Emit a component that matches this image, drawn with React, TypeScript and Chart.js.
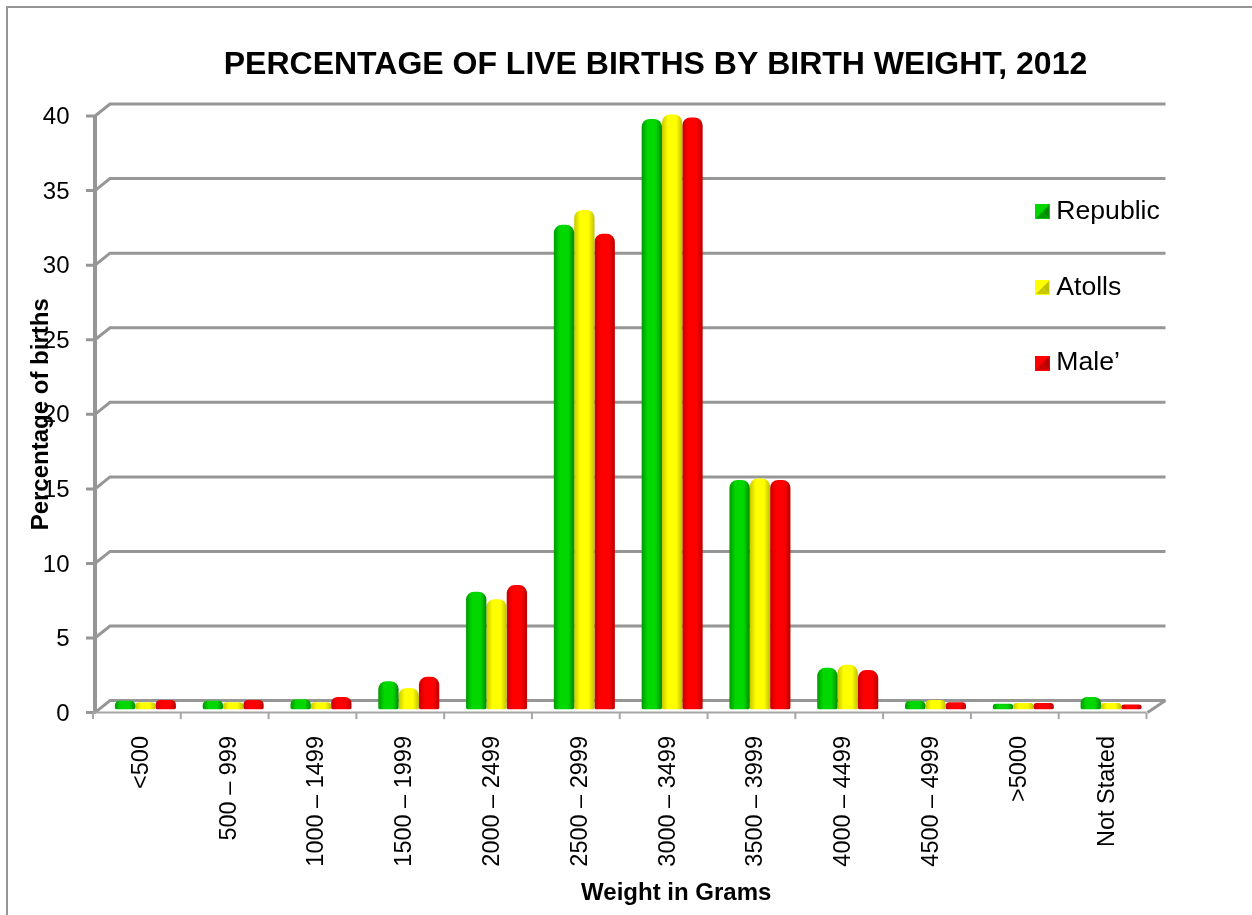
import React, { useEffect, useRef } from "react";
import { Chart, registerables } from "chart.js";

Chart.register(...registerables);

const categories = ["<500", "500 – 999", "1000 – 1499", "1500 – 1999", "2000 – 2499", "2500 – 2999", "3000 – 3499", "3500 – 3999", "4000 – 4499", "4500 – 4999", ">5000", "Not Stated"];
const republic = [0.6, 0.6, 0.7, 1.9, 7.9, 32.5, 39.6, 15.4, 2.8, 0.6, 0.4, 0.85];
const atolls = [0.5, 0.5, 0.5, 1.45, 7.4, 33.5, 39.9, 15.5, 3.0, 0.65, 0.45, 0.45];
const male = [0.65, 0.65, 0.85, 2.2, 8.35, 31.9, 39.7, 15.4, 2.65, 0.5, 0.45, 0.35];
const yTicks = [0, 5, 10, 15, 20, 25, 30, 35, 40];

const FONT = "'Liberation Sans', Arial, sans-serif";
const GRID = "#969696";
const DEPTH_Y = 12;

const shades: Record<string, [string, string, string]> = {
  Republic: ["#009a00", "#00d800", "#008a00"],
  Atolls: ["#c8c800", "#ffff00", "#c0c000"],
  "Male’": ["#c80000", "#ff0000", "#b80000"],
};

function swatch(colors: [string, string, string]) {
  const c = document.createElement("canvas");
  c.width = 15;
  c.height = 15;
  const g = c.getContext("2d")!;
  const tri = (col: string, pts: number[]) => {
    g.fillStyle = col;
    g.beginPath();
    g.moveTo(7.5, 7.5);
    g.lineTo(pts[0], pts[1]);
    g.lineTo(pts[2], pts[3]);
    g.closePath();
    g.fill();
  };
  g.fillStyle = colors[1];
  g.fillRect(0, 0, 15, 15);
  tri(colors[1], [1, 1, 14, 1]);
  tri(colors[1], [1, 1, 1, 14]);
  tri(colors[2], [14, 1, 14, 14]);
  tri(colors[0], [1, 14, 14, 14]);
  return c;
}

const frame3d = {
  id: "frame3d",
  afterLayout(chart: any) {
    const l = chart.legend;
    l.left = 993;
    l.right = 1240;
    l.top = 149.5;
    l.bottom = 800;
    chart.titleBlock.left = 59;
    chart.titleBlock.right = 1252;
    const x = chart.scales.x;
    if (!x._shifted) {
      x._shifted = true;
      const orig = x.drawTitle.bind(x);
      x.drawTitle = () => {
        chart.ctx.save();
        chart.ctx.translate(48, 0);
        orig();
        chart.ctx.restore();
      };
    }
  },
  beforeDatasetsDraw(chart: any) {
    const { ctx, scales } = chart;
    const y = scales.y;
    const x = scales.x;
    const left = x.left - 8.5;
    const right = x.right - 8.5;
    ctx.save();
    ctx.strokeStyle = GRID;
    ctx.lineWidth = 3;
    yTicks.forEach((v) => {
      const py = y.getPixelForValue(v);
      ctx.beginPath();
      ctx.moveTo(left - 7, py);
      ctx.lineTo(left + 2, py);
      ctx.lineTo(left + 17, py - DEPTH_Y);
      ctx.lineTo(right + 19, py - DEPTH_Y);
      ctx.stroke();
    });
    const y0 = y.getPixelForValue(0);
    const y40 = y.getPixelForValue(40);
    ctx.lineWidth = 4;
    ctx.beginPath();
    ctx.moveTo(left + 2, y40);
    ctx.lineTo(left + 2, y0);
    ctx.stroke();
    ctx.lineWidth = 3;
    ctx.beginPath();
    ctx.moveTo(right + 19, y0 - DEPTH_Y);
    ctx.lineTo(right + 1, y0);
    ctx.stroke();
    ctx.lineWidth = 2;
    ctx.strokeStyle = "#a6a6a6";
    ctx.beginPath();
    ctx.moveTo(left, y0);
    ctx.lineTo(right, y0);
    ctx.stroke();
    for (let i = 0; i <= categories.length; i++) {
      const px = left + (i * (right - left)) / categories.length;
      ctx.beginPath();
      ctx.moveTo(px, y0);
      ctx.lineTo(px, y0 + 6.5);
      ctx.stroke();
    }
    ctx.restore();
    // bars stand on the floor, slightly behind the front edge
    ctx.save();
    ctx.translate(0, -3);
  },
  afterDatasetsDraw(chart: any) {
    chart.ctx.restore();
  },
  beforeDatasetDraw(chart: any, args: any) {
    const meta = chart.getDatasetMeta(args.index);
    const cols = shades[chart.data.datasets[args.index].label];
    meta.data.forEach((el: any) => {
      const half = el.width / 2;
      const g = chart.ctx.createLinearGradient(el.x - half, 0, el.x + half, 0);
      g.addColorStop(0, cols[0]);
      g.addColorStop(0.3, cols[1]);
      g.addColorStop(0.7, cols[1]);
      g.addColorStop(1, cols[2]);
      el.options = { ...el.options, backgroundColor: g };
    });
  },
};

export default function App() {
  const ref = useRef<HTMLCanvasElement>(null);
  useEffect(() => {
    document.body.style.margin = "0";
    document.body.style.overflow = "hidden";
    const mk = (label: string, data: number[]) => ({
      label,
      data,
      backgroundColor: shades[label][1],
      borderRadius: { topLeft: 8, topRight: 8, bottomLeft: 2, bottomRight: 2 },
      borderSkipped: false,
      categoryPercentage: 0.695,
      barPercentage: 1,
    });
    const chart = new Chart(ref.current!, {
      type: "bar",
      data: {
        labels: categories,
        datasets: [mk("Republic", republic), mk("Atolls", atolls), mk("Male’", male)],
      },
      plugins: [frame3d],
      options: {
        animation: false,
        responsive: false,
        layout: { padding: { left: 27, right: 97, top: 46, bottom: 7 } },
        plugins: {
          tooltip: { enabled: false },
          title: {
            display: true,
            text: "PERCENTAGE OF LIVE BIRTHS BY BIRTH WEIGHT, 2012",
            color: "#000",
            font: { family: FONT, size: 32, weight: "bold" },
            padding: { top: 0, bottom: 31.6 },
          },
          legend: {
            position: "chartArea",
            align: "start",
            labels: {
              usePointStyle: true,
              pointStyleWidth: 1,
              boxHeight: 15,
              padding: 49,
              color: "#000",
              font: { family: FONT, size: 26.6 },
              generateLabels: (c: any) =>
                c.data.datasets.map((d: any, i: number) => ({
                  text: d.label,
                  pointStyle: swatch(shades[d.label]),
                  datasetIndex: i,
                  fontColor: "#000",
                })),
            },
          },
        },
        scales: {
          x: {
            grid: { display: false },
            border: { display: false },
            afterFit: (s: any) => {
              s.height = 195.4;
            },
            ticks: {
              color: "#000",
              maxRotation: 90,
              minRotation: 90,
              autoSkip: false,
              labelOffset: -4,
              padding: 15.4,
              font: { family: FONT, size: 23.5 },
            },
            title: {
              display: true,
              text: "Weight in Grams",
              color: "#000",
              font: { family: FONT, size: 24, weight: "bold" },
              padding: { top: 4, bottom: 0 },
            },
          },
          y: {
            min: 0,
            max: 40,
            grid: { display: false, drawTicks: false },
            border: { display: false },
            afterBuildTicks: (s: any) => {
              s.ticks = yTicks.map((value) => ({ value }));
            },
            afterFit: (s: any) => {
              s.width = 74.5;
            },
            ticks: { color: "#000", padding: 32, labelOffset: 1.5, font: { family: FONT, size: 24 } },
            title: {
              display: true,
              text: "Percentage of births",
              color: "#000",
              font: { family: FONT, size: 24, weight: "bold" },
              padding: 0,
            },
          },
        },
      },
    } as any);
    return () => chart.destroy();
  }, []);
  return (
    <div style={{ position: "absolute", left: 0, top: 0, width: 1252, height: 915 }}>
      <div style={{ position: "absolute", left: 6, top: 6, width: 1246, height: 909, borderLeft: "2px solid #969696", borderTop: "2px solid #969696", boxSizing: "border-box" }} />
      <canvas ref={ref} width={1252} height={915} style={{ position: "absolute", left: 0, top: 0 }} />
    </div>
  );
}
